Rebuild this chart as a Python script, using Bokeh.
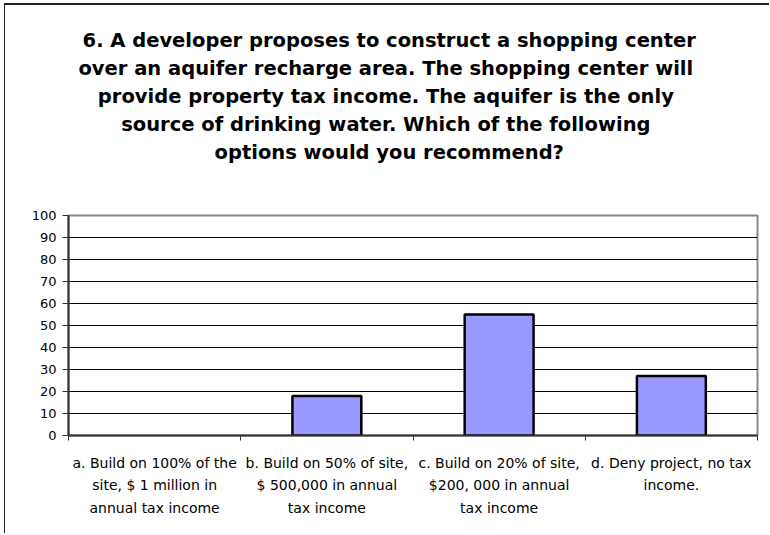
from bokeh.plotting import figure
from bokeh.models import ColumnDataSource, FixedTicker, Range1d, Title
from bokeh.embed import file_html
from bokeh.resources import INLINE

# ---- data ----
categories = [
    "a. Build on 100% of the\nsite, $ 1 million in\nannual tax income",
    "b. Build on 50% of site,\n$ 500,000 in annual\ntax income",
    "c. Build on 20% of site,\n$200, 000 in annual\ntax income",
    "d. Deny project, no tax\nincome.",
]
values = [0, 18, 55, 27]
y_ticks = [0, 10, 20, 30, 40, 50, 60, 70, 80, 90, 100]
title_lines = [
    "6. A developer proposes to construct a shopping center",
    "over an aquifer recharge area.  The shopping center will",
    "provide property tax income.  The aquifer is the only",
    "source of drinking water.  Which of the following",
    "options would you recommend?",
]

n = len(categories)
centers = [i + 0.5 for i in range(n)]
bounds = [float(i) for i in range(n + 1)]

src = ColumnDataSource(dict(
    x=centers,
    top=values,
    la=[1.0 if v > 0 else 0.0 for v in values],
))

p = figure(width=765, height=530, output_backend="svg", toolbar_location=None,
           x_range=Range1d(0, n), y_range=Range1d(0, 100),
           min_border_left=63, min_border_right=13,
           min_border_top=210, min_border_bottom=100)
p.styles = {"margin-left": "4px", "margin-top": "3px",
            "border-left": "1px solid #222", "border-top": "2px solid #222"}
p.background_fill_color = "white"
p.border_fill_color = "white"
p.outline_line_color = "#888888"
p.outline_line_width = 2

p.vbar(x="x", top="top", width=0.4, bottom=0, source=src,
       fill_color="#9999FF", line_color="black", line_width=2.5, line_alpha="la")

# y axis
p.yaxis.ticker = FixedTicker(ticks=y_ticks)
p.yaxis.axis_line_color = "#333333"
p.yaxis.axis_line_width = 2
p.yaxis.major_tick_line_color = "#333333"
p.yaxis.major_tick_out = 6
p.yaxis.major_tick_in = 0
p.yaxis.minor_tick_line_color = None
p.yaxis.major_label_standoff = 6
p.yaxis.major_label_text_font = "DejaVu Sans"
p.yaxis.major_label_text_font_size = "13px"
p.yaxis.major_label_text_color = "black"

# x axis: labels at centers, ticks at boundaries
p.xaxis.ticker = FixedTicker(ticks=centers, minor_ticks=bounds)
p.xaxis.major_label_overrides = {c: lab for c, lab in zip(centers, categories)}
p.xaxis.major_tick_out = 0
p.xaxis.major_tick_in = 0
p.xaxis.minor_tick_out = 5
p.xaxis.minor_tick_in = 0
p.xaxis.minor_tick_line_color = "#333333"
p.xaxis.axis_line_color = "#333333"
p.xaxis.axis_line_width = 2
p.xaxis.major_label_standoff = 14
p.xaxis.major_label_text_font = "DejaVu Sans"
p.xaxis.major_label_text_font_size = "14px"
p.xaxis.major_label_text_color = "black"
p.xaxis.major_label_text_line_height = 1.43

p.xgrid.grid_line_color = None
p.ygrid.ticker = FixedTicker(ticks=y_ticks)
p.ygrid.grid_line_color = "black"
p.ygrid.grid_line_width = 1

# spacer between the frame and the title block
p.add_layout(Title(text=" ", standoff=47, text_font_size="1px"), "above")

# title lines: the first one added sits nearest the frame;
# trailing no-break spaces move the centred block left of the frame centre
pad = "\u00a0" * 7
for line in reversed(title_lines):
    t = Title(text=line + pad, align="center", standoff=3,
              text_font="DejaVu Sans", text_font_size="19.5px", text_font_style="bold",
              text_color="black")
    p.add_layout(t, "above")

open("out.html", "w").write(file_html(p, INLINE))
